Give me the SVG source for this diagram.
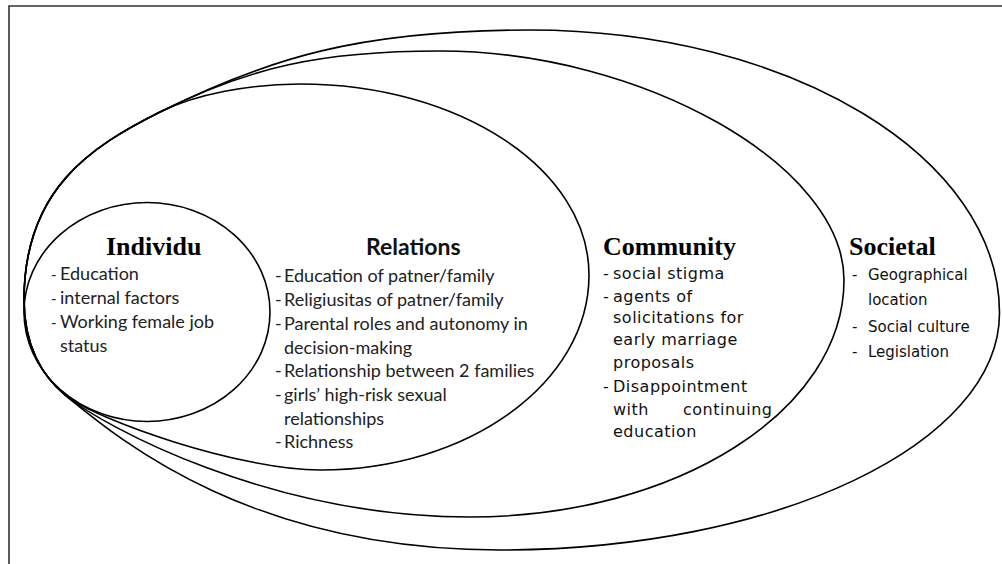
<svg xmlns="http://www.w3.org/2000/svg" width="1002" height="564" viewBox="0 0 1002 564">
<style>
.ring{fill:none;stroke:#000;stroke-width:1.6}
.frame{fill:none;stroke:#333;stroke-width:1.6}
.head{font-family:"Liberation Serif","Times New Roman",serif;font-weight:bold;font-size:26px;fill:#000}
.headc{font-family:Lato,"Liberation Sans",sans-serif;font-weight:bold;font-size:23px;fill:#111}
.cal{font-family:Lato,"Liberation Sans",sans-serif;font-size:18px;fill:#222}
.tah{font-family:"DejaVu Sans","Liberation Sans",sans-serif;font-size:16px;fill:#111;letter-spacing:0.5px}
.tah2{font-family:"DejaVu Sans","Liberation Sans",sans-serif;font-size:15px;fill:#111}
</style>
<rect x="0" y="0" width="1002" height="564" fill="#fff"/>
<path class="frame" d="M9,570 V6 H1010"/>
<g id="societal">
<path class="ring" d="M65,395 C42,376 24,345 24,300 C24,190 90,147 160,112 C267.3,58.4 360,30 530,30 C790,30 999.5,157 999.5,313 C999.5,444 776.6,550 500,550 C250,550 118.9,439.1 65,395 Z"/>
<text class="head" x="849" y="255">Societal</text>
<text class="tah2" x="852" y="280">-</text>
<text class="tah2" x="868" y="280">Geographical</text>
<text class="tah2" x="868" y="305">location</text>
<text class="tah2" x="852" y="332">-</text>
<text class="tah2" x="868" y="332">Social culture</text>
<text class="tah2" x="852" y="357">-</text>
<text class="tah2" x="868" y="357">Legislation</text>
</g>
<g id="community">
<path class="ring" d="M65,395 C42,376 24,345 24,300 C24,190 90,147 160,112 C249.4,67.3 320,51 440,51 C642,51 844,165.5 844,280 C844,410.8 676.4,517 470,517 C270,517 103.5,426.5 65,395 Z"/>
<text class="head" x="603" y="255">Community</text>
<text class="tah" x="603" y="279">-</text>
<text class="tah" x="613" y="279">social stigma</text>
<text class="tah" x="603" y="302">-</text>
<text class="tah" x="613" y="302">agents of</text>
<text class="tah" x="613" y="323">solicitations for</text>
<text class="tah" x="613" y="345">early marriage</text>
<text class="tah" x="613" y="368">proposals</text>
<text class="tah" x="603" y="392">-</text>
<text class="tah" x="613" y="392">Disappointment</text>
<text class="tah" x="613" y="415">with</text>
<text class="tah" x="683" y="415">continuing</text>
<text class="tah" x="613" y="437">education</text>
</g>
<g id="relations">
<path class="ring" d="M65,395 C42,376 24,345 24,300 C24,190 90,147 160,112 C195.8,94.1 250,84 300,84 C460,84 589,169.5 589,275 C589,382.7 468.5,470 320,470 C240,470 95.8,420.2 65,395 Z"/>
<text class="headc" x="366" y="255">Relations</text>
<text class="cal" x="275" y="282">-</text>
<text class="cal" x="284" y="282">Education of patner/family</text>
<text class="cal" x="275" y="306">-</text>
<text class="cal" x="284" y="306">Religiusitas of patner/family</text>
<text class="cal" x="275" y="330">-</text>
<text class="cal" x="284" y="330">Parental roles and autonomy in</text>
<text class="cal" x="284" y="353.5">decision-making</text>
<text class="cal" x="275" y="377">-</text>
<text class="cal" x="284" y="377">Relationship between 2 families</text>
<text class="cal" x="275" y="401">-</text>
<text class="cal" x="284" y="401">girls’ high-risk sexual</text>
<text class="cal" x="284" y="424.5">relationships</text>
<text class="cal" x="275" y="448">-</text>
<text class="cal" x="284" y="448">Richness</text>
</g>
<g id="individu">
<ellipse class="ring" cx="147" cy="312" rx="123" ry="109.5"/>
<text class="head" x="106" y="255">Individu</text>
<text class="cal" x="51" y="280" style="font-size:15px">-</text>
<text class="cal" x="60" y="280">Education</text>
<text class="cal" x="51" y="304" style="font-size:15px">-</text>
<text class="cal" x="60" y="304">internal factors</text>
<text class="cal" x="51" y="328" style="font-size:15px">-</text>
<text class="cal" x="60" y="328">Working female job</text>
<text class="cal" x="60" y="352">status</text>
</g>
<g id="connectors"></g>
</svg>
